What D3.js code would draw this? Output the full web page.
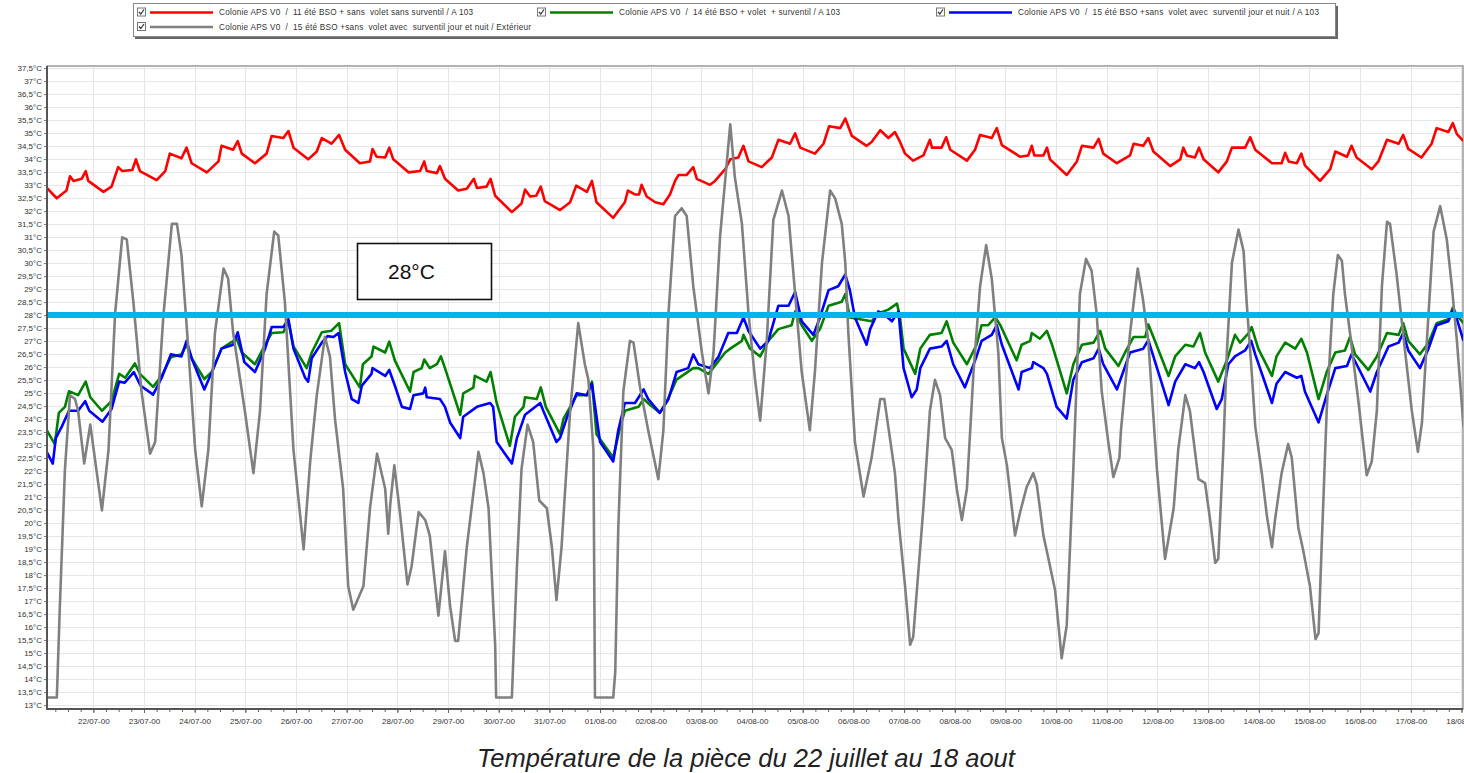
<!DOCTYPE html>
<html>
<head>
<meta charset="utf-8">
<script src="https://cdn.jsdelivr.net/npm/d3@7"></script>
<style>
  body { margin: 0; background: #fff; }
  svg { display: block; font-family: "Liberation Sans", Arial, sans-serif; }
</style>
</head>
<body>
<svg id="chart" width="1464" height="773"></svg>
<script>
// legend labels + colours, in legend order
const seriesNames = [
  "Colonie APS V0  /  11 été BSO + sans  volet sans surventil / A 103",
  "Colonie APS V0  /  14 été BSO + volet  + surventil / A 103",
  "Colonie APS V0  /  15 été BSO +sans  volet avec  surventil jour et nuit / A 103",
  "Colonie APS V0  /  15 été BSO +sans  volet avec  surventil jour et nuit / Extérieur"
];
const seriesColors = ["#ff0000", "#008000", "#0000ff", "#808080"];

// [days since 22/07/2000 00:00, °C]
const red = [[-0.92,32.9],[-0.72,32.49],[-0.53,32.79],[-0.46,33.34],[-0.39,33.16],[-0.23,33.24],[-0.15,33.54],[-0.10,33.16],[0.20,32.74],[0.36,32.94],[0.49,33.69],[0.57,33.54],[0.77,33.58],[0.84,33.99],[0.92,33.54],[1.25,33.19],[1.42,33.54],[1.51,34.21],[1.74,34.03],[1.84,34.44],[1.94,33.84],[2.24,33.49],[2.47,33.91],[2.53,34.51],[2.76,34.36],[2.85,34.69],[2.93,34.21],[3.19,33.84],[3.42,34.21],[3.52,34.89],[3.75,34.81],[3.85,35.08],[3.95,34.44],[4.24,33.99],[4.41,34.29],[4.51,34.81],[4.70,34.59],[4.85,34.93],[4.97,34.36],[5.26,33.84],[5.46,33.91],[5.51,34.39],[5.59,34.09],[5.76,34.06],[5.84,34.44],[5.92,33.99],[6.22,33.49],[6.45,33.54],[6.53,33.91],[6.58,33.54],[6.78,33.46],[6.84,33.73],[6.94,33.24],[7.20,32.79],[7.37,32.86],[7.51,33.24],[7.57,32.89],[7.76,32.94],[7.84,33.24],[7.93,32.59],[8.26,31.96],[8.45,32.29],[8.52,32.83],[8.62,32.56],[8.74,32.59],[8.83,32.94],[8.91,32.38],[9.21,32.04],[9.41,32.34],[9.53,32.98],[9.74,32.74],[9.84,33.16],[9.93,32.34],[10.26,31.74],[10.49,32.34],[10.55,32.79],[10.69,32.64],[10.77,32.64],[10.82,33.01],[10.92,32.56],[11.09,32.34],[11.25,32.26],[11.38,32.64],[11.48,33.16],[11.55,33.39],[11.71,33.39],[11.84,33.69],[11.91,33.24],[12.17,33.01],[12.27,33.16],[12.47,33.61],[12.57,33.99],[12.73,34.06],[12.83,34.51],[12.93,33.91],[13.19,33.69],[13.39,34.06],[13.52,34.74],[13.75,34.59],[13.85,34.99],[13.95,34.44],[14.24,34.21],[14.41,34.59],[14.52,35.26],[14.74,35.19],[14.84,35.56],[14.97,34.89],[15.26,34.51],[15.36,34.66],[15.53,35.11],[15.69,34.81],[15.82,35.04],[15.92,34.66],[16.02,34.21],[16.18,33.94],[16.38,34.14],[16.51,34.74],[16.55,34.44],[16.74,34.44],[16.83,34.84],[16.91,34.36],[17.24,33.94],[17.40,34.36],[17.50,34.93],[17.73,34.81],[17.83,35.19],[17.93,34.54],[18.29,34.09],[18.45,34.14],[18.52,34.51],[18.57,34.14],[18.75,34.14],[18.82,34.44],[18.88,33.99],[19.21,33.39],[19.41,33.91],[19.51,34.51],[19.74,34.44],[19.84,34.78],[19.93,34.21],[20.20,33.84],[20.46,34.14],[20.53,34.59],[20.72,34.51],[20.82,34.81],[20.92,34.29],[21.25,33.73],[21.45,33.99],[21.51,34.44],[21.58,34.14],[21.74,34.06],[21.82,34.44],[21.91,33.99],[22.20,33.49],[22.37,33.91],[22.47,34.44],[22.73,34.44],[22.83,34.84],[22.93,34.36],[23.26,33.84],[23.45,33.84],[23.52,34.24],[23.59,33.91],[23.75,33.84],[23.84,34.21],[23.91,33.76],[24.21,33.16],[24.41,33.61],[24.51,34.29],[24.74,34.09],[24.83,34.51],[24.93,34.06],[25.23,33.61],[25.36,33.91],[25.53,34.74],[25.76,34.59],[25.85,34.93],[25.95,34.39],[26.21,34.06],[26.41,34.59],[26.51,35.19],[26.74,35.04],[26.83,35.38],[26.91,34.96],[27.04,34.69]];

const green = [[-0.92,23.57],[-0.76,23.04],[-0.68,24.24],[-0.56,24.47],[-0.48,25.07],[-0.30,24.92],[-0.15,25.44],[-0.06,24.84],[0.17,24.32],[0.36,24.69],[0.51,25.74],[0.63,25.59],[0.82,26.14],[0.92,25.74],[1.18,25.24],[1.35,25.66],[1.53,26.38],[1.74,26.49],[1.84,26.86],[1.94,26.34],[2.19,25.54],[2.34,25.81],[2.53,26.71],[2.83,27.09],[2.93,26.56],[3.19,26.11],[3.39,26.86],[3.52,27.31],[3.75,27.34],[3.85,27.76],[3.95,26.79],[4.21,25.96],[4.31,26.56],[4.51,27.34],[4.70,27.40],[4.85,27.69],[4.97,26.11],[5.26,25.22],[5.32,26.11],[5.49,26.41],[5.53,26.79],[5.76,26.56],[5.84,26.98],[5.95,26.26],[6.25,25.06],[6.32,25.81],[6.48,25.96],[6.53,26.29],[6.64,25.96],[6.78,26.11],[6.86,26.41],[6.94,25.96],[7.24,24.16],[7.30,24.99],[7.50,25.21],[7.53,25.66],[7.76,25.44],[7.84,25.81],[7.96,24.62],[8.22,22.97],[8.32,24.09],[8.49,24.47],[8.52,24.84],[8.75,24.77],[8.83,25.22],[8.93,24.47],[9.21,23.42],[9.28,24.02],[9.41,24.47],[9.54,24.92],[9.74,24.92],[9.84,25.44],[9.93,23.42],[10.26,22.52],[10.40,23.72],[10.49,24.32],[10.76,24.47],[10.86,24.77],[10.99,24.54],[11.18,24.24],[11.32,24.69],[11.51,25.52],[11.84,25.96],[11.94,25.96],[12.14,25.74],[12.47,26.56],[12.57,26.71],[12.80,27.01],[12.83,27.24],[12.96,26.71],[13.16,26.41],[13.32,27.01],[13.52,27.46],[13.78,27.61],[13.85,28.14],[13.98,27.61],[14.18,27.01],[14.34,27.46],[14.51,28.36],[14.64,28.44],[14.77,28.51],[14.84,28.81],[14.93,27.91],[15.36,27.76],[15.49,28.06],[15.69,28.21],[15.86,28.44],[15.92,27.91],[15.99,26.71],[16.22,25.74],[16.32,26.71],[16.51,27.24],[16.74,27.31],[16.84,27.76],[16.97,26.94],[17.24,26.11],[17.43,26.86],[17.53,27.61],[17.66,27.61],[17.80,27.91],[17.90,27.61],[18.22,26.26],[18.32,26.86],[18.49,27.01],[18.52,27.31],[18.68,27.09],[18.82,27.39],[18.92,26.86],[19.21,24.99],[19.34,26.11],[19.51,26.86],[19.74,26.94],[19.87,27.39],[19.97,26.71],[20.23,26.04],[20.36,26.56],[20.53,27.16],[20.76,27.16],[20.82,27.64],[20.92,27.16],[21.22,25.66],[21.35,26.41],[21.55,26.86],[21.71,26.79],[21.84,27.31],[21.94,26.56],[22.20,25.44],[22.37,26.26],[22.53,27.24],[22.63,26.94],[22.80,27.31],[22.86,27.54],[22.99,26.71],[23.26,25.66],[23.35,26.41],[23.52,26.94],[23.72,26.71],[23.84,27.09],[23.95,26.56],[24.18,24.77],[24.34,25.81],[24.51,26.56],[24.70,26.64],[24.80,27.16],[24.90,26.49],[25.16,25.89],[25.33,26.41],[25.53,27.31],[25.76,27.24],[25.85,27.69],[25.95,27.01],[26.18,26.49],[26.35,26.94],[26.51,27.69],[26.74,27.84],[26.83,28.29],[26.91,27.99],[27.04,27.69]];

const blue = [[-0.92,22.74],[-0.80,22.29],[-0.74,23.27],[-0.62,23.72],[-0.48,24.32],[-0.30,24.32],[-0.16,24.69],[-0.08,24.32],[0.18,23.90],[0.36,24.39],[0.51,25.44],[0.62,25.40],[0.80,25.81],[0.93,25.29],[1.18,24.94],[1.35,25.59],[1.53,26.49],[1.74,26.41],[1.84,27.01],[1.95,26.29],[2.19,25.14],[2.34,25.81],[2.53,26.71],[2.76,26.86],[2.85,27.34],[2.98,26.19],[3.19,25.81],[3.39,26.71],[3.52,27.54],[3.75,27.54],[3.85,27.84],[3.95,26.71],[4.18,25.59],[4.24,25.44],[4.31,26.34],[4.51,26.94],[4.62,27.19],[4.74,27.16],[4.84,27.31],[4.97,25.81],[5.10,24.77],[5.23,24.62],[5.30,25.29],[5.49,25.74],[5.51,25.96],[5.76,25.66],[5.84,25.89],[5.95,25.29],[6.09,24.47],[6.25,24.39],[6.32,24.92],[6.51,24.99],[6.55,25.21],[6.58,24.84],[6.84,24.77],[6.94,24.47],[7.04,23.87],[7.24,23.27],[7.30,24.09],[7.57,24.47],[7.83,24.62],[7.89,24.47],[7.96,23.12],[8.26,22.29],[8.36,23.27],[8.52,24.17],[8.82,24.62],[8.88,24.32],[9.14,23.12],[9.21,23.27],[9.34,24.02],[9.54,24.99],[9.74,24.92],[9.84,25.36],[10.00,23.12],[10.26,22.37],[10.36,23.57],[10.49,24.62],[10.69,24.62],[10.86,25.14],[10.95,24.77],[11.18,24.24],[11.35,24.77],[11.51,25.81],[11.74,25.96],[11.84,26.49],[11.94,26.11],[12.17,25.96],[12.34,26.41],[12.53,27.31],[12.70,27.31],[12.83,27.91],[12.93,27.39],[13.16,26.71],[13.32,27.01],[13.52,28.36],[13.72,28.36],[13.85,28.89],[13.98,27.76],[14.21,27.24],[14.34,27.91],[14.51,28.96],[14.70,29.11],[14.84,29.56],[14.93,28.96],[15.03,27.91],[15.26,26.86],[15.33,27.46],[15.49,28.14],[15.63,27.99],[15.76,27.76],[15.89,28.14],[15.99,25.96],[16.15,24.84],[16.25,25.14],[16.32,25.96],[16.51,26.71],[16.74,26.79],[16.84,27.01],[16.97,26.11],[17.20,25.22],[17.43,26.41],[17.53,27.01],[17.73,27.24],[17.83,27.61],[17.93,26.86],[18.26,25.14],[18.32,25.81],[18.52,25.96],[18.55,26.19],[18.75,25.96],[18.82,25.74],[19.01,24.47],[19.21,24.02],[19.34,25.51],[19.51,26.19],[19.74,26.34],[19.84,26.71],[19.93,26.11],[20.20,25.14],[20.46,26.56],[20.72,26.71],[20.82,27.04],[20.92,26.41],[21.22,24.54],[21.35,25.44],[21.55,26.11],[21.74,25.96],[21.82,26.19],[21.91,25.81],[22.17,24.39],[22.27,24.77],[22.40,26.11],[22.53,26.41],[22.73,26.64],[22.85,27.01],[22.93,26.49],[23.26,24.62],[23.35,25.36],[23.52,25.81],[23.75,25.59],[23.84,25.66],[23.91,25.06],[24.18,23.87],[24.34,24.92],[24.51,25.96],[24.74,26.04],[24.83,26.49],[24.93,26.11],[25.20,25.06],[25.33,25.81],[25.56,26.79],[25.76,26.94],[25.85,27.31],[25.95,26.64],[26.18,25.96],[26.35,26.71],[26.51,27.61],[26.74,27.76],[26.84,28.21],[26.91,27.84],[27.04,27.01]];

const grey = [[-0.93,13.29],[-0.72,13.29],[-0.66,16.82],[-0.56,22.07],[-0.46,24.92],[-0.36,24.77],[-0.30,24.32],[-0.18,22.29],[-0.06,23.79],[0.17,20.49],[0.30,22.82],[0.43,28.06],[0.57,30.99],[0.66,30.91],[0.79,28.51],[0.95,25.07],[1.12,22.67],[1.22,23.12],[1.38,27.91],[1.55,31.51],[1.65,31.51],[1.74,30.31],[1.88,26.56],[2.01,22.82],[2.14,20.64],[2.27,22.82],[2.40,27.31],[2.57,29.79],[2.66,29.41],[2.76,27.31],[2.99,24.32],[3.16,21.92],[3.29,24.32],[3.42,28.81],[3.57,31.21],[3.65,31.06],[3.78,28.51],[3.95,22.82],[4.15,18.99],[4.28,22.37],[4.41,24.92],[4.57,27.16],[4.67,26.4],[4.77,24.0],[4.93,21.32],[5.03,17.57],[5.13,16.67],[5.33,17.57],[5.46,20.57],[5.60,22.67],[5.76,21.32],[5.82,19.59],[5.86,20.72],[5.94,22.22],[6.05,20.42],[6.20,17.64],[6.28,18.32],[6.42,20.42],[6.55,20.12],[6.64,19.52],[6.81,16.44],[6.94,18.92],[7.04,16.82],[7.14,15.47],[7.20,15.47],[7.37,19.07],[7.60,22.74],[7.70,21.92],[7.80,20.57],[7.93,15.32],[7.95,13.29],[8.26,13.29],[8.36,18.32],[8.45,22.07],[8.57,23.79],[8.68,23.12],[8.80,20.87],[8.95,20.57],[9.05,19.07],[9.14,17.04],[9.24,19.07],[9.41,24.32],[9.57,27.69],[9.70,26.11],[9.77,25.51],[9.87,22.82],[9.90,13.29],[10.26,13.29],[10.30,14.27],[10.36,19.82],[10.46,25.07],[10.59,27.01],[10.66,26.94],[10.79,25.22],[10.95,23.57],[11.15,21.69],[11.25,23.57],[11.35,28.06],[11.48,31.81],[11.61,32.11],[11.71,31.81],[11.84,29.11],[12.01,26.56],[12.14,24.99],[12.24,26.56],[12.37,31.06],[12.57,35.34],[12.66,33.31],[12.80,31.51],[12.93,28.06],[13.06,25.51],[13.16,23.94],[13.29,27.01],[13.42,31.66],[13.59,32.79],[13.72,31.81],[13.85,28.81],[13.98,25.81],[14.14,23.57],[14.24,25.81],[14.38,30.01],[14.54,32.79],[14.64,32.49],[14.77,31.51],[14.84,30.01],[14.90,27.31],[15.03,23.12],[15.20,21.02],[15.36,22.52],[15.53,24.77],[15.61,24.77],[15.82,21.92],[15.89,20.12],[16.02,17.57],[16.12,15.32],[16.18,15.62],[16.38,20.57],[16.51,24.32],[16.61,25.51],[16.71,24.92],[16.81,23.27],[16.94,22.82],[17.04,21.32],[17.14,20.12],[17.24,21.32],[17.37,25.81],[17.50,29.11],[17.62,30.69],[17.73,29.41],[17.86,26.56],[17.93,23.27],[18.03,22.22],[18.19,19.52],[18.29,20.42],[18.42,21.39],[18.55,21.92],[18.62,21.47],[18.75,19.52],[18.85,18.62],[18.98,17.42],[19.11,14.80],[19.21,16.07],[19.34,22.07],[19.47,28.81],[19.59,30.16],[19.70,29.71],[19.80,28.06],[19.90,25.07],[20.03,23.12],[20.13,21.77],[20.25,22.52],[20.28,23.57],[20.46,27.31],[20.61,29.79],[20.71,28.66],[20.82,27.01],[20.99,22.07],[21.15,18.62],[21.32,20.57],[21.41,22.82],[21.55,24.92],[21.64,24.32],[21.81,21.69],[21.94,21.54],[22.04,20.12],[22.14,18.47],[22.20,18.62],[22.30,22.82],[22.37,26.56],[22.47,30.01],[22.60,31.29],[22.70,30.46],[22.76,28.51],[22.86,25.81],[22.93,23.72],[23.06,21.92],[23.16,20.27],[23.26,19.07],[23.32,20.12],[23.45,21.92],[23.58,23.04],[23.65,22.52],[23.78,19.82],[23.88,18.92],[24.01,17.57],[24.12,15.54],[24.18,15.77],[24.24,19.07],[24.34,24.32],[24.47,28.81],[24.56,30.31],[24.64,30.09],[24.70,28.81],[24.80,27.31],[24.97,24.62],[25.13,21.84],[25.23,22.37],[25.33,24.32],[25.43,29.11],[25.53,31.59],[25.59,31.51],[25.72,29.56],[25.89,26.56],[26.02,24.32],[26.14,22.74],[26.22,23.87],[26.35,28.06],[26.45,31.21],[26.58,32.19],[26.71,30.91],[26.81,29.11],[26.91,27.01],[27.04,23.72]];

const threshold = 28;
const thresholdLabel = "28°C";
const caption = "Température de la pièce du 22 juillet au 18 aout";

const svg = d3.select("#chart");
const plotLeft = 47, plotRight = 1463, plotTop = 66, plotBottom = 709;

const t0 = new Date(2000, 6, 22);
const toDate = (d) => new Date(t0.getTime() + d * 864e5);

const x = d3.scaleTime().domain([toDate(-0.914), toDate(27.03)]).range([plotLeft, plotRight]);
const y = d3.scaleLinear().domain([12.85, 37.58]).range([plotBottom, plotTop]);

const yTicks = d3.range(13, 37.51, 0.5);
const fmtY = (v) => (v % 1 === 0 ? v : v.toFixed(1).replace(".", ",")) + "°C";

// grid
svg.append("g").selectAll("line").data(yTicks).join("line")
  .attr("x1", plotLeft).attr("x2", plotRight)
  .attr("y1", (d) => Math.round(y(d)) + 0.5).attr("y2", (d) => Math.round(y(d)) + 0.5)
  .attr("stroke", "#e6e6e6");

svg.append("g").selectAll("line").data(x.ticks(d3.timeDay.every(1))).join("line")
  .attr("x1", (d) => Math.round(x(d)) + 0.5).attr("x2", (d) => Math.round(x(d)) + 0.5)
  .attr("y1", plotTop).attr("y2", plotBottom)
  .attr("stroke", "#e6e6e6");

// frame
svg.append("rect").attr("x", plotLeft).attr("y", plotTop)
  .attr("width", plotRight - plotLeft).attr("height", plotBottom - plotTop)
  .attr("fill", "none").attr("stroke", "#9a9a9a").attr("stroke-width", 1.5);

// series
svg.append("clipPath").attr("id", "plot")
  .append("rect").attr("x", plotLeft).attr("y", plotTop)
  .attr("width", plotRight - plotLeft).attr("height", plotBottom - plotTop);

const line = d3.line()
  .x((d) => x(toDate(d[0])))
  .y((d) => y(d[1]));

const allSeries = [red, green, blue, grey];
svg.append("g").attr("clip-path", "url(#plot)")
  .selectAll("path").data(allSeries).join("path")
  .attr("d", line)
  .attr("fill", "none")
  .attr("stroke", (d, i) => seriesColors[i])
  .attr("stroke-width", 2.6)
  .attr("stroke-linejoin", "round");

// 28°C threshold
svg.append("line")
  .attr("x1", plotLeft).attr("x2", plotRight)
  .attr("y1", y(threshold)).attr("y2", y(threshold))
  .attr("stroke", "#00b4f0").attr("stroke-width", 6);

// axes
const yAxis = svg.append("g").attr("transform", `translate(${plotLeft},0)`)
  .call(d3.axisLeft(y).tickValues(yTicks).tickFormat(fmtY).tickSize(3).tickPadding(2));
yAxis.select(".domain").remove();
yAxis.selectAll("text").attr("font-size", 8).attr("fill", "#333")
  .attr("font-family", "Liberation Sans, Arial, sans-serif");
yAxis.selectAll("line").attr("stroke", "#777");

const xAxis = svg.append("g").attr("transform", `translate(0,${plotBottom})`)
  .call(d3.axisBottom(x).ticks(d3.timeDay.every(1))
    .tickFormat(d3.timeFormat("%d/%m-%y")).tickSize(4).tickPadding(5));
xAxis.select(".domain").remove();
xAxis.selectAll("text").attr("font-size", 8).attr("fill", "#333")
  .attr("font-family", "Liberation Sans, Arial, sans-serif");
xAxis.selectAll("line").attr("stroke", "#666");

const xMinor = svg.append("g").attr("transform", `translate(0,${plotBottom})`)
  .call(d3.axisBottom(x).ticks(d3.timeHour.every(6)).tickFormat("").tickSize(3));
xMinor.select(".domain").remove();
xMinor.selectAll("line").attr("stroke", "#666");

// left + bottom axis lines (darker)
svg.append("line").attr("x1", plotLeft).attr("x2", plotLeft).attr("y1", plotTop).attr("y2", plotBottom + 1)
  .attr("stroke", "#555").attr("stroke-width", 2);
svg.append("line").attr("x1", plotLeft).attr("x2", plotRight).attr("y1", plotBottom).attr("y2", plotBottom)
  .attr("stroke", "#555").attr("stroke-width", 2);

// annotation box
svg.append("rect").attr("x", 357.5).attr("y", 243.5).attr("width", 134).attr("height", 56)
  .attr("fill", "#fff").attr("stroke", "#111").attr("stroke-width", 1.6);
svg.append("text").attr("x", 388).attr("y", 279)
  .attr("font-size", 21).attr("fill", "#111").text(thresholdLabel);

// legend
const lg = svg.append("g");
lg.append("rect").attr("x", 135).attr("y", 6).attr("width", 1203).attr("height", 33).attr("fill", "#666");
lg.append("rect").attr("x", 133.5).attr("y", 3.5).attr("width", 1202).attr("height", 33)
  .attr("fill", "#fff").attr("stroke", "#888");

const legendPos = [[137, 12.5], [537, 12.5], [936, 12.5], [137, 27]];
const legendTextWidth = [254, 221, 301, 312];
const items = lg.selectAll("g.item").data(seriesNames).join("g")
  .attr("class", "item")
  .attr("transform", (d, i) => `translate(${legendPos[i][0]},${legendPos[i][1]})`);
items.append("rect").attr("x", 0.5).attr("y", -4.5).attr("width", 8).attr("height", 8)
  .attr("fill", "#fff").attr("stroke", "#777");
items.append("path").attr("d", "M2,-0.5 L3.8,1.5 L7,-3")
  .attr("fill", "none").attr("stroke", "#333").attr("stroke-width", 1.2);
items.append("line").attr("x1", 13).attr("x2", 76).attr("y1", 0).attr("y2", 0)
  .attr("stroke", (d, i) => seriesColors[i]).attr("stroke-width", 2.6);
items.append("text").attr("x", 82).attr("y", 2.8)
  .attr("font-size", 8.2).attr("fill", "#333")
  .attr("xml:space", "preserve").style("white-space", "pre")
  .attr("textLength", (d, i) => legendTextWidth[i])
  .attr("lengthAdjust", "spacing")
  .text((d) => d);

// caption
svg.append("text").attr("x", 746).attr("y", 767).attr("text-anchor", "middle")
  .attr("font-size", 25.5).attr("font-style", "italic").attr("fill", "#222")
  .text(caption);
</script>
</body>
</html>
